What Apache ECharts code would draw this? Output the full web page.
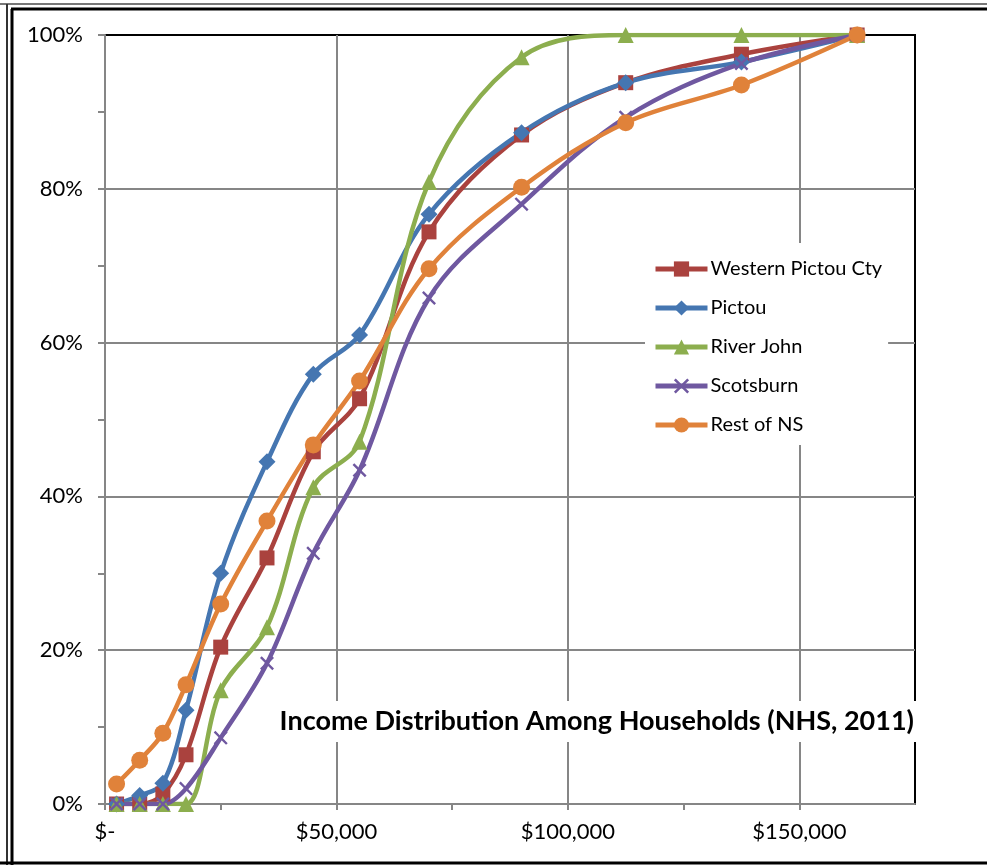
<!DOCTYPE html>
<html>
<head>
<meta charset="utf-8">
<script src="https://cdn.jsdelivr.net/npm/echarts@6/dist/echarts.min.js"></script>
<style>
  html, body { margin: 0; padding: 0; background: #fff; }
  #main { width: 987px; height: 865px; }
</style>
</head>
<body>
<div id="main"></div>
<script>
// income bracket mid-points ($)
var incomes = [2500, 7500, 12500, 17500, 25000, 35000, 45000, 55000, 70000, 90000, 112500, 137500, 162500];

// cumulative share of households
var westernPictou = [0, 0, 0.013, 0.064, 0.204, 0.32, 0.458, 0.527, 0.744, 0.87, 0.938, 0.975, 1];
var pictou        = [0, 0.011, 0.027, 0.122, 0.30, 0.445, 0.559, 0.61, 0.767, 0.873, 0.938, 0.965, 1];
var riverJohn     = [0, 0, 0, 0, 0.148, 0.23, 0.412, 0.471, 0.809, 0.971, 1, 1, 1];
var scotsburn     = [0, 0, 0, 0.02, 0.086, 0.183, 0.326, 0.434, 0.658, 0.78, 0.893, 0.963, 1];
var restOfNS      = [0.026, 0.057, 0.092, 0.155, 0.26, 0.368, 0.467, 0.55, 0.696, 0.802, 0.886, 0.935, 1];

var seriesNames = ['Western Pictou Cty', 'Pictou', 'River John', 'Scotsburn', 'Rest of NS'];
var colors = ['#AA423E', '#4576B1', '#8CAE4E', '#6F58A0', '#E0823A'];

var xMark = 'path://M0,1.2L1.2,0L5,3.8L8.8,0L10,1.2L6.2,5L10,8.8L8.8,10L5,6.2L1.2,10L0,8.8L3.8,5Z';

function pairs(ys) {
  return incomes.map(function (x, i) { return [x, ys[i]]; });
}

function makeSeries(name, ys, color, symbol, size) {
  return {
    name: name,
    type: 'line',
    data: pairs(ys),
    smooth: 0.35,
    symbol: symbol,
    symbolSize: size,
    showAllSymbol: true,
    lineStyle: { color: color, width: 4.5 },
    itemStyle: { color: color },
    emphasis: { disabled: true }
  };
}

var chart = echarts.init(document.getElementById('main'));

var font = 'Lato, "Open Sans", sans-serif';

var option = {
  animation: false,
  color: colors,
  textStyle: { fontFamily: font },
  grid: {
    left: 105, top: 35, right: 72, bottom: 61,
    show: true, borderColor: '#000', borderWidth: 2, backgroundColor: 'transparent'
  },
  title: {
    text: 'Income Distribution Among Households (NHS, 2011)',
    right: 70,
    top: 701,
    padding: [7, 3, 7, 6],
    backgroundColor: '#fff',
    textStyle: { fontFamily: font, fontSize: 27, fontWeight: 'bold', color: '#000' },
    z: 10
  },
  legend: {
    orient: 'vertical',
    left: 645,
    top: 243,
    padding: [16, 6, 10, 8],
    backgroundColor: '#fff',
    itemWidth: 52,
    itemHeight: 19,
    itemGap: 19,
    textStyle: { fontFamily: font, fontSize: 20, color: '#000', padding: [0, 0, 0, -2] },
    lineStyle: { width: 5 },
    data: seriesNames
  },
  xAxis: [
    {
      type: 'value',
      min: 0,
      max: 175000,
      interval: 25000,
      axisLine: { show: true, lineStyle: { color: '#868686', width: 2 } },
      axisTick: { show: true, length: 6, lineStyle: { color: '#868686', width: 2 } },
      splitLine: { show: false },
      axisLabel: {
        fontFamily: font, fontSize: 22, color: '#000', margin: 17,
        showMaxLabel: false,
        formatter: function (v) {
          if (v % 50000 !== 0) return '';
          if (v === 0) return '$-';
          return '$' + v.toLocaleString('en-US');
        }
      }
    },
    {
      type: 'value',
      min: 0,
      max: 175000,
      interval: 50000,
      axisLine: { show: false },
      axisTick: { show: false },
      axisLabel: { show: false },
      splitLine: { show: true, showMinLine: false, showMaxLine: false, lineStyle: { color: '#868686', width: 2 } }
    }
  ],
  yAxis: {
    type: 'value',
    min: 0,
    max: 1,
    interval: 0.2,
    axisLine: { show: true, lineStyle: { color: '#868686', width: 2 } },
    axisTick: { show: true, length: 7, lineStyle: { color: '#868686', width: 2 } },
    minorTick: { show: true, splitNumber: 2, length: 7, lineStyle: { color: '#868686', width: 2 } },
    splitLine: { show: true, showMinLine: false, showMaxLine: false, lineStyle: { color: '#868686', width: 2 } },
    axisLabel: {
      fontFamily: font, fontSize: 22, color: '#000', margin: 22,
      formatter: function (v) { return Math.round(v * 100) + '%'; }
    }
  },
  graphic: [
    { type: 'line', shape: { x1: 0, y1: 4, x2: 987, y2: 4 }, style: { stroke: '#777', lineWidth: 2 } },
    { type: 'line', shape: { x1: 11, y1: 9, x2: 987, y2: 9 }, style: { stroke: '#000', lineWidth: 3 } },
    { type: 'line', shape: { x1: 7, y1: 4, x2: 7, y2: 865 }, style: { stroke: '#333', lineWidth: 2 } },
    { type: 'line', shape: { x1: 12, y1: 9, x2: 12, y2: 865 }, style: { stroke: '#000', lineWidth: 3 } },
    { type: 'line', shape: { x1: 0, y1: 863, x2: 987, y2: 863 }, style: { stroke: '#000', lineWidth: 3 } }
  ],
  series: [
    makeSeries(seriesNames[0], westernPictou, colors[0], 'rect', 15),
    makeSeries(seriesNames[1], pictou, colors[1], 'diamond', 17),
    makeSeries(seriesNames[2], riverJohn, colors[2], 'triangle', 16),
    makeSeries(seriesNames[3], scotsburn, colors[3], xMark, 14),
    makeSeries(seriesNames[4], restOfNS, colors[4], 'circle', 17)
  ]
};

chart.setOption(option);
</script>
</body>
</html>
